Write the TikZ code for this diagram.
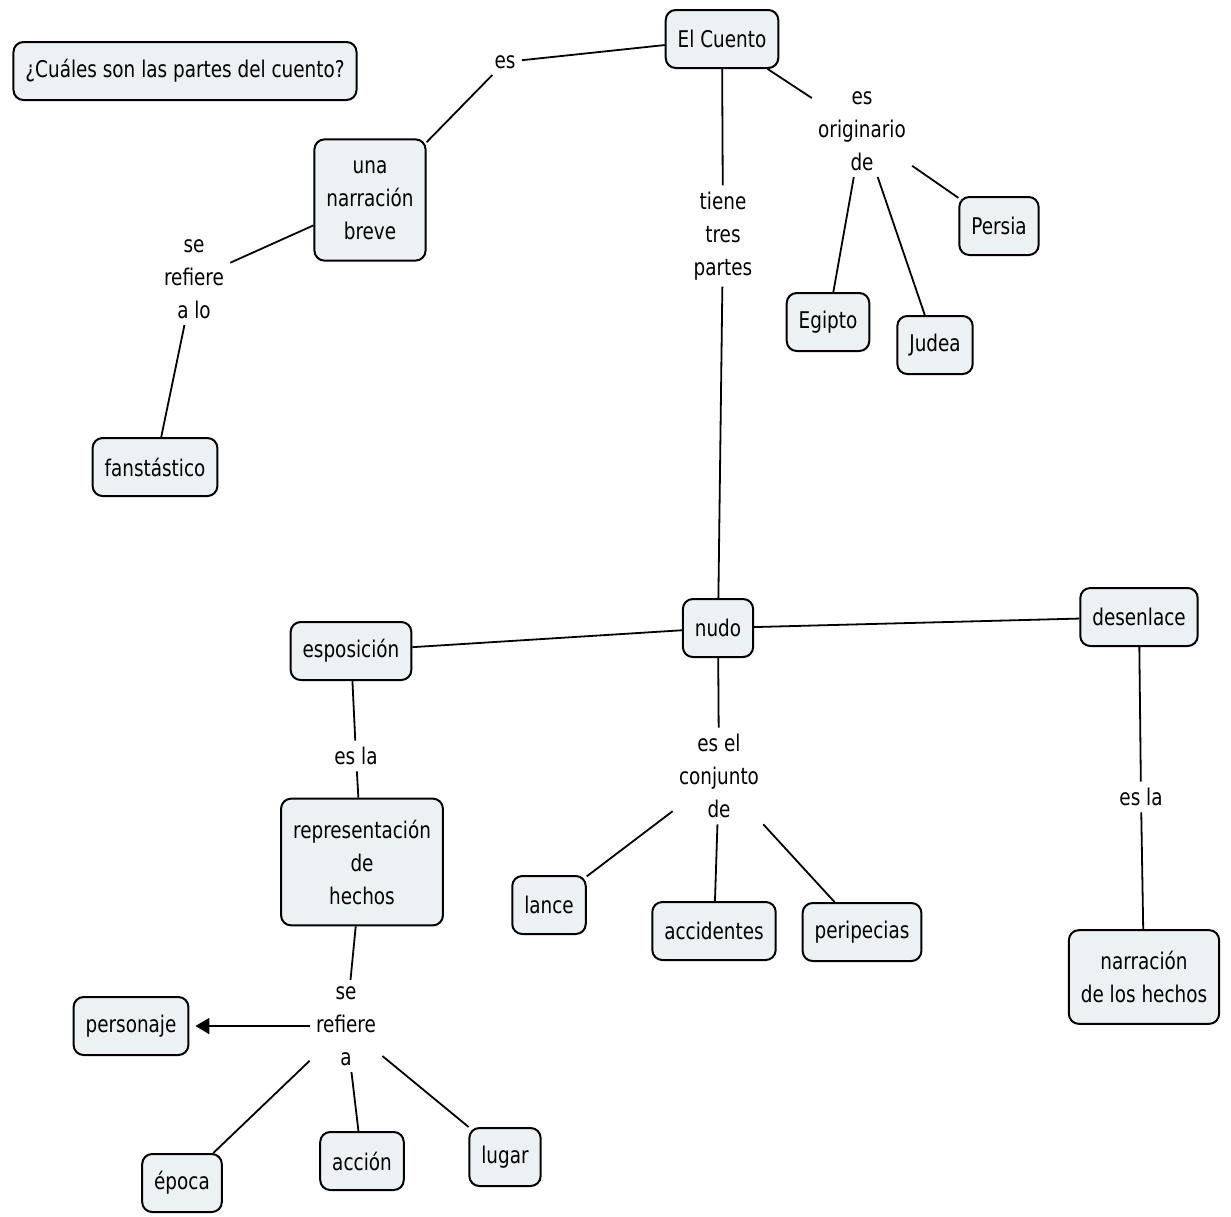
\documentclass[tikz,border=0pt]{standalone}
\usepackage{fontspec}
\setmainfont{DejaVu Sans}[FakeStretch=0.8]
\usetikzlibrary{arrows.meta}
\definecolor{cmapfill}{RGB}{236,242,244}
\tikzset{
 concept/.style={draw, line width=1pt, rounded corners=5pt, fill=cmapfill, align=center,
   inner xsep=6pt, inner ysep=7pt, minimum height=29pt},
 tallconcept/.style={concept, inner ysep=10.5pt},
 phrase/.style={align=center, inner sep=3pt},
 link/.style={line width=0.9pt},
}
\begin{document}
\begin{tikzpicture}[x=0.5pt,y=-0.5pt,font=\fontsize{11.5}{16.5}\selectfont]
\useasboundingbox (0,0) rectangle (1231,1216);
\node[concept] (pregunta) at (185,71) {¿Cuáles son las partes del cuento?};
\node[concept] (cuento) at (722,39) {El Cuento};
\node[tallconcept] (narracion) at (370,200) {una\\narración\\breve};
\node[concept] (fantastico) at (155,467) {fanstástico};
\node[concept] (persia) at (999,226) {Persia};
\node[concept] (egipto) at (828,322) {Egipto};
\node[concept] (judea) at (935,345) {Judea};
\node[concept] (nudo) at (718,628) {nudo};
\node[concept] (esposicion) at (351,651) {esposición};
\node[concept] (desenlace) at (1139,617) {desenlace};
\node[tallconcept] (representacion) at (362,862) {representación\\de\\hechos};
\node[concept] (lance) at (549,905) {lance};
\node[concept] (accidentes) at (714,931) {accidentes};
\node[concept] (peripecias) at (862,932) {peripecias};
\node[tallconcept] (hechos) at (1144,977) {narración\\de los hechos};
\node[concept] (personaje) at (131,1026) {personaje};
\node[concept] (epoca) at (182,1183) {época};
\node[concept] (accion) at (362,1161) {acción};
\node[concept] (lugar) at (505,1157) {lugar};

\node[phrase] (es) at (505,62) {es};
\node[phrase] (originario) at (862,131) {es\\originario\\de};
\node[phrase] (tiene) at (723,236) {tiene\\tres\\partes};
\node[phrase] (serefierelo) at (194,279) {se\\refiere\\a lo};
\node[phrase] (conjunto) at (719,776) {es el\\conjunto\\de};
\node[phrase] (esla) at (356,756) {es la};
\node[phrase] (eslader) at (1141,797) {es la};
\node[phrase] (serefiere) at (346,1026) {se\\refiere\\a};

\draw[link] (cuento) -- (es);
\draw[link] (es) -- (narracion);
\draw[link] (narracion) -- (serefierelo);
\draw[link] (serefierelo) -- (fantastico);
\draw[link] (cuento) -- (tiene);
\draw[link] (tiene) -- (nudo);
\draw[link] (cuento) -- (originario);
\draw[link] (originario) -- (persia);
\draw[link] (originario) -- (egipto);
\draw[link] (originario) -- (judea);
\draw[link] (nudo) -- (esposicion);
\draw[link] (nudo) -- (desenlace);
\draw[link] (nudo) -- (conjunto);
\draw[link] (conjunto) -- (lance);
\draw[link] (conjunto) -- (accidentes);
\draw[link] (conjunto) -- (peripecias);
\draw[link] (esposicion) -- (esla);
\draw[link] (esla) -- (representacion);
\draw[link] (desenlace) -- (eslader);
\draw[link] (eslader) -- (hechos);
\draw[link] (representacion) -- (serefiere);
\draw[link, -{Triangle[length=7pt,width=8pt]}, shorten >=3pt] (serefiere) -- (personaje);
\draw[link] (serefiere) -- (epoca);
\draw[link] (serefiere) -- (accion);
\draw[link] (serefiere) -- (lugar);
\end{tikzpicture}
\end{document}
